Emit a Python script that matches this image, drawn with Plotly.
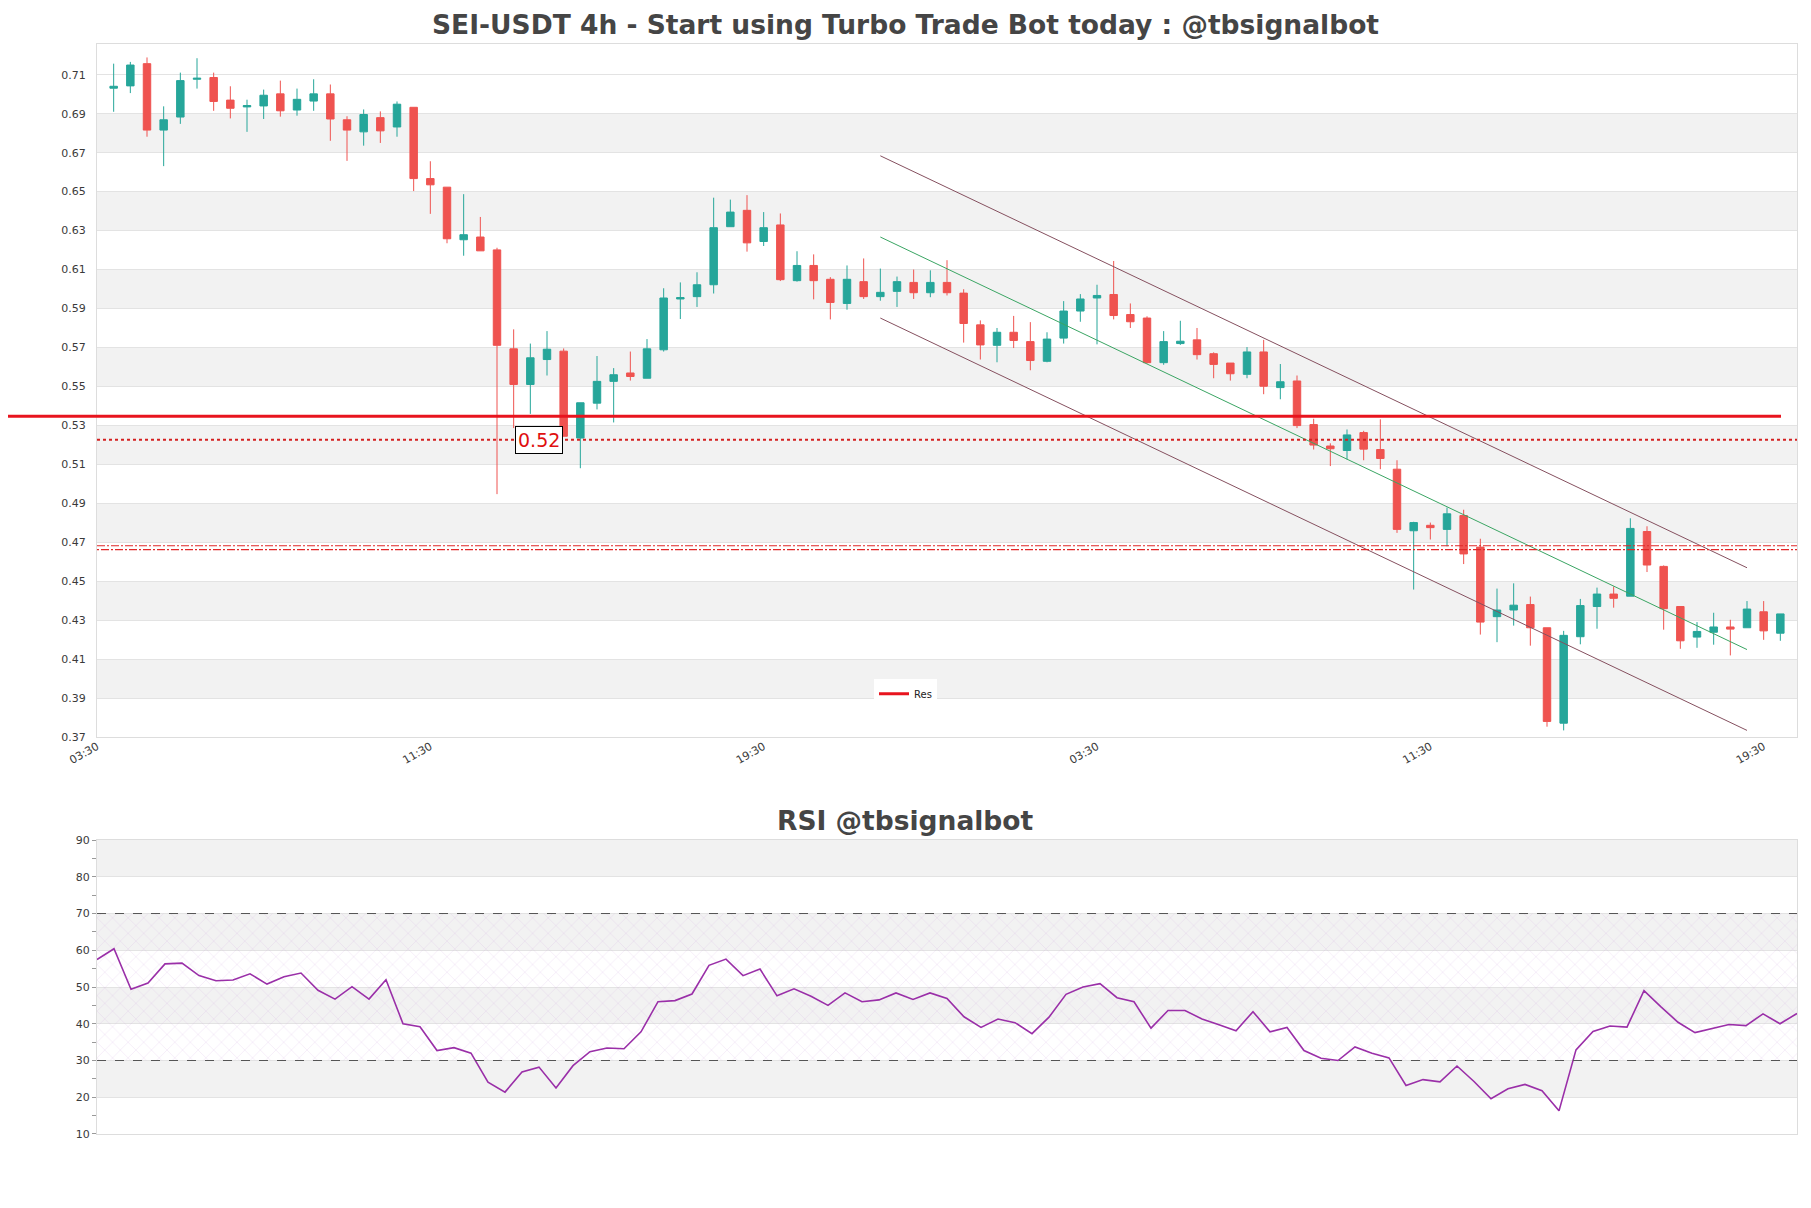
import pandas as pd
import plotly.graph_objects as go

# ---------------- data ----------------
times = pd.date_range("2024-05-01 07:30", periods=101, freq="4h")
tick_times = pd.date_range("2024-05-01 03:30", periods=6, freq="80h")
tick_labels = ["03:30", "11:30", "19:30", "03:30", "11:30", "19:30"]

opens = [0.7031, 0.7043, 0.7157, 0.6816, 0.6883, 0.7077, 0.7086, 0.6970, 0.6935, 0.6940,
         0.7002, 0.6919, 0.6965, 0.7002, 0.6869, 0.6807, 0.6880, 0.6832, 0.6933, 0.6567,
         0.6523, 0.6253, 0.6267, 0.6201, 0.5693, 0.5510, 0.5638, 0.5681, 0.5235, 0.5414,
         0.5526, 0.5569, 0.5542, 0.5688, 0.5949, 0.5961, 0.6022, 0.6320, 0.6404, 0.6244,
         0.6329, 0.6043, 0.6121, 0.6050, 0.5926, 0.6038, 0.5961, 0.5988, 0.6034, 0.5981,
         0.6034, 0.5979, 0.5816, 0.5711, 0.5778, 0.5730, 0.5629, 0.5748, 0.5887, 0.5954,
         0.5972, 0.5869, 0.5851, 0.5622, 0.5720, 0.5739, 0.5668, 0.5620, 0.5562, 0.5677,
         0.5494, 0.5528, 0.5304, 0.5194, 0.5171, 0.5263, 0.5176, 0.5075, 0.4759, 0.4787,
         0.4766, 0.4837, 0.4675, 0.4318, 0.4352, 0.4380, 0.4261, 0.3771, 0.4215, 0.4370,
         0.4434, 0.4423, 0.4755, 0.4576, 0.4370, 0.4213, 0.4238, 0.4265, 0.4261, 0.4343,
         0.4233]
highs = [0.7157, 0.7166, 0.7189, 0.6938, 0.7111, 0.7185, 0.7111, 0.7041, 0.6972, 0.7024,
         0.7070, 0.7029, 0.7077, 0.7050, 0.6887, 0.6922, 0.6912, 0.6963, 0.6933, 0.6656,
         0.6523, 0.6487, 0.6370, 0.6212, 0.5793, 0.5720, 0.5784, 0.5695, 0.5416, 0.5656,
         0.5594, 0.5679, 0.5743, 0.6004, 0.6034, 0.6086, 0.6469, 0.6459, 0.6482, 0.6395,
         0.6388, 0.6194, 0.6178, 0.6061, 0.6121, 0.6157, 0.6105, 0.6064, 0.6100, 0.6096,
         0.6148, 0.5999, 0.5839, 0.5800, 0.5862, 0.5830, 0.5778, 0.5938, 0.5974, 0.6022,
         0.6144, 0.5926, 0.5860, 0.5784, 0.5837, 0.5800, 0.5675, 0.5620, 0.5702, 0.5739,
         0.5615, 0.5556, 0.5334, 0.5208, 0.5279, 0.5272, 0.5331, 0.5121, 0.4805, 0.4801,
         0.4878, 0.4867, 0.4718, 0.4462, 0.4489, 0.4421, 0.4261, 0.4245, 0.4409, 0.4467,
         0.4473, 0.4823, 0.4782, 0.4581, 0.4370, 0.4290, 0.4338, 0.4302, 0.4398, 0.4398,
         0.4332]
lows = [0.6910, 0.7006, 0.6782, 0.6631, 0.6848, 0.7029, 0.6915, 0.6876, 0.6807, 0.6873,
        0.6885, 0.6890, 0.6915, 0.6761, 0.6658, 0.6736, 0.6750, 0.6782, 0.6503, 0.6386,
        0.6235, 0.6171, 0.6196, 0.4947, 0.5286, 0.5359, 0.5556, 0.5244, 0.5080, 0.5382,
        0.5315, 0.5530, 0.5542, 0.5679, 0.5846, 0.5908, 0.5977, 0.6320, 0.6192, 0.6221,
        0.6041, 0.6038, 0.5947, 0.5844, 0.5894, 0.5949, 0.5940, 0.5908, 0.5949, 0.5958,
        0.5967, 0.5725, 0.5638, 0.5624, 0.5697, 0.5583, 0.5624, 0.5720, 0.5832, 0.5716,
        0.5844, 0.5800, 0.5617, 0.5611, 0.5713, 0.5638, 0.5542, 0.5530, 0.5542, 0.5460,
        0.5434, 0.5286, 0.5176, 0.5091, 0.5125, 0.5121, 0.5075, 0.4748, 0.4457, 0.4714,
        0.4679, 0.4588, 0.4226, 0.4187, 0.4272, 0.4169, 0.3753, 0.3734, 0.4176, 0.4256,
        0.4364, 0.4423, 0.4547, 0.4251, 0.4153, 0.4158, 0.4174, 0.4119, 0.4261, 0.4199,
        0.4194]
closes = [0.7041, 0.7150, 0.6816, 0.6869, 0.7070, 0.7082, 0.6963, 0.6928, 0.6942, 0.6995,
          0.6915, 0.6974, 0.7002, 0.6873, 0.6816, 0.6896, 0.6812, 0.6949, 0.6567, 0.6535,
          0.6258, 0.6279, 0.6196, 0.5711, 0.5510, 0.5647, 0.5691, 0.5244, 0.5416, 0.5526,
          0.5560, 0.5551, 0.5693, 0.5954, 0.5956, 0.6022, 0.6315, 0.6395, 0.6237, 0.6315,
          0.6048, 0.6121, 0.6043, 0.5931, 0.6050, 0.5961, 0.5983, 0.6038, 0.5981, 0.6034,
          0.5981, 0.5823, 0.5713, 0.5778, 0.5736, 0.5633, 0.5743, 0.5887, 0.5949, 0.5967,
          0.5864, 0.5832, 0.5622, 0.5730, 0.5732, 0.5663, 0.5613, 0.5565, 0.5677, 0.5501,
          0.5524, 0.5299, 0.5199, 0.5180, 0.5251, 0.5178, 0.5130, 0.4766, 0.4801, 0.4775,
          0.4846, 0.4640, 0.4290, 0.4352, 0.4377, 0.4261, 0.3780, 0.4222, 0.4375, 0.4434,
          0.4412, 0.4771, 0.4583, 0.4359, 0.4194, 0.4242, 0.4265, 0.4254, 0.4357, 0.4245,
          0.4332]

rsi = [57.5, 60.4, 49.4, 51.1, 56.3, 56.5, 53.1, 51.7, 51.9, 53.6,
       50.8, 52.8, 53.8, 49.1, 46.7, 50.1, 46.7, 52.0, 40.0, 39.2,
       32.7, 33.5, 32.0, 24.1, 21.4, 26.9, 28.2, 22.5, 28.6, 32.4,
       33.4, 33.2, 37.8, 46.0, 46.3, 48.1, 55.9, 57.6, 53.1, 54.9,
       47.6, 49.5, 47.5, 45.0, 48.4, 46.0, 46.5, 48.4, 46.6, 48.4,
       46.9, 41.9, 39.0, 41.3, 40.3, 37.3, 41.8, 48.0, 50.0, 50.9,
       47.1, 46.0, 38.8, 43.6, 43.6, 41.3, 39.7, 38.1, 43.3, 37.8,
       39.0, 32.7, 30.6, 30.0, 33.7, 32.0, 30.7, 23.2, 24.8, 24.2,
       28.5, 24.3, 19.6, 22.3, 23.5, 21.8, 16.3, 32.9, 37.9, 39.4,
       39.1, 49.0, 44.6, 40.4, 37.6, 38.8, 39.8, 39.5, 42.7, 40.0,
       42.8]

res_level = 0.5347          # "Res" line
support_level = 0.5226      # dotted line with 0.52 label
support_label = "0.52"
pattern_level = 0.4672      # patterned red line

channel_idx = [46, 98]
channel_upper = [0.6684, 0.4569]
channel_mid = [0.6267, 0.4149]
channel_lower = [0.5851, 0.3734]

y_ticks = [0.37, 0.39, 0.41, 0.43, 0.45, 0.47, 0.49, 0.51, 0.53, 0.55,
           0.57, 0.59, 0.61, 0.63, 0.65, 0.67, 0.69, 0.71]
rsi_ticks = [10, 20, 30, 40, 50, 60, 70, 80, 90]
rsi_upper, rsi_lower = 70, 30

title_text = "SEI-USDT 4h - Start using Turbo Trade Bot today : @tbsignalbot"
rsi_title = "RSI @tbsignalbot"

# ---------------- figure ----------------
GREEN = "#26A69A"
RED = "#EF5350"
FONT = "DejaVu Sans"
BAND = "#F2F2F2"
GRID = "#E3E3E3"

W, H = 1811, 1208
OFF = 8                      # page body margin
ML, MR, MT, MB = 97 - OFF, 14 + OFF, 44 - OFF, 74 + OFF
plot_w = W - ML - MR
plot_h = H - MT - MB
main_dom = [0.3642, 1.0]
rsi_dom = [0.0, 0.2697]
center_x = (W / 2 - OFF - ML) / plot_w

fig = go.Figure()

fig.add_trace(go.Candlestick(
    x=times, open=opens, high=highs, low=lows, close=closes,
    increasing=dict(line=dict(color=GREEN, width=1), fillcolor=GREEN),
    decreasing=dict(line=dict(color=RED, width=1), fillcolor=RED),
    whiskerwidth=0, showlegend=False, xaxis="x", yaxis="y", name="SEI-USDT"))

# channel lines
cx = [times[i] for i in channel_idx]
for ys, col in [(channel_upper, "#85505F"), (channel_mid, "#3AA563"), (channel_lower, "#85505F")]:
    fig.add_trace(go.Scatter(x=cx, y=ys, mode="lines", line=dict(color=col, width=1),
                             showlegend=False, hoverinfo="skip", xaxis="x", yaxis="y"))

# support dotted line
x_lo = times[0] - pd.Timedelta(hours=4)
x_hi = times[-1] + pd.Timedelta(hours=4)
fig.add_trace(go.Scatter(x=[x_lo, x_hi], y=[support_level, support_level], mode="lines",
                         line=dict(color="#D42020", width=2, dash="dot"),
                         showlegend=False, hoverinfo="skip", xaxis="x", yaxis="y"))
# patterned line (double dashed)
for off, dash in [(0.0010, "8px,2px,2px,2px"), (-0.0010, "2px,2px,8px,2px")]:
    fig.add_trace(go.Scatter(x=[x_lo, x_hi], y=[pattern_level + off] * 2, mode="lines",
                             line=dict(color="#E02828", width=1.2, dash=dash),
                             showlegend=False, hoverinfo="skip", xaxis="x", yaxis="y"))

# legend entry for Res
fig.add_trace(go.Scatter(x=[None], y=[None], mode="lines", name="Res",
                         line=dict(color="#E8141E", width=3), xaxis="x", yaxis="y"))

# RSI hatch area
fig.add_trace(go.Scatter(x=[times[0], times[-1], times[-1], times[0], times[0]],
                         y=[rsi_lower, rsi_lower, rsi_upper, rsi_upper, rsi_lower],
                         fill="toself", mode="lines", line=dict(width=0),
                         fillcolor="rgba(0,0,0,0)",
                         fillpattern=dict(shape="x", fgcolor="rgba(200,150,215,0.7)",
                                          bgcolor="rgba(0,0,0,0)", size=11, solidity=0.08),
                         showlegend=False, hoverinfo="skip", xaxis="x2", yaxis="y2"))
# RSI line
fig.add_trace(go.Scatter(x=times, y=rsi, mode="lines", line=dict(color="#9A2FA8", width=1.6),
                         showlegend=False, xaxis="x2", yaxis="y2", name="RSI"))

shapes = []
# main bands
for lo, hi in zip(y_ticks[1::2], y_ticks[2::2]):
    shapes.append(dict(type="rect", xref="x domain", yref="y", x0=0, x1=1, y0=lo, y1=hi,
                       fillcolor=BAND, line=dict(width=0), layer="below"))
# rsi bands
for lo, hi in zip(rsi_ticks[1::2], rsi_ticks[2::2]):
    shapes.append(dict(type="rect", xref="x2 domain", yref="y2", x0=0, x1=1, y0=lo, y1=hi,
                       fillcolor=BAND, line=dict(width=0), layer="below"))
# rsi threshold dashed lines
for lvl in [rsi_upper, rsi_lower]:
    shapes.append(dict(type="line", xref="x2 domain", yref="y2", x0=0, x1=1, y0=lvl, y1=lvl,
                       line=dict(color="#555555", width=1, dash="dash")))
# Res line extending left of the plot
res_x0 = (0 - ML) / plot_w
res_x1 = (1781 - OFF - ML) / plot_w
shapes.append(dict(type="line", xref="paper", yref="y", x0=res_x0, x1=res_x1,
                   y0=res_level, y1=res_level, line=dict(color="#E8141E", width=3)))

annotations = [
    dict(text=f"<b>{title_text}</b>", xref="paper", yref="paper", x=center_x,
         y=1 + (MT - 16) / plot_h,
         xanchor="center", yanchor="middle", showarrow=False,
         font=dict(family=FONT, size=26.5, color="#454545")),
    dict(text=f"<b>{rsi_title}</b>", xref="paper", yref="paper", x=center_x, y=0.288,
         xanchor="center", yanchor="middle", showarrow=False,
         font=dict(family=FONT, size=26.5, color="#454545")),
    dict(text=support_label, xref="x", yref="y", x=times[24] + pd.Timedelta(hours=6),
         y=support_level, xanchor="center", yanchor="middle", showarrow=False,
         font=dict(family=FONT, size=19, color="#E01010"),
         bgcolor="white", bordercolor="black", borderwidth=1, borderpad=2),
]

axis_font = dict(family=FONT, size=11, color="#3a3a3a")
fig.update_layout(
    width=W, height=H,
    margin=dict(l=ML, r=MR, t=MT, b=MB),
    paper_bgcolor="white", plot_bgcolor="white",
    font=dict(family=FONT),
    boxgap=0.36,
    showlegend=True,
    legend=dict(x=center_x, y=0.404, xanchor="center", yanchor="middle",
                bgcolor="white", font=dict(family=FONT, size=10, color="#222"),
                itemwidth=30),
    xaxis=dict(domain=[0, 1], anchor="y", range=[x_lo, x_hi],
               tickvals=list(tick_times), ticktext=tick_labels,
               tickangle=-30, tickfont=axis_font, showgrid=False,
               showline=True, linecolor="#DDDDDD", mirror=True, ticks="",
               ticklabelstandoff=-2,
               rangeslider=dict(visible=False), zeroline=False),
    yaxis=dict(domain=main_dom, anchor="x", range=[0.37, 0.7258],
               tickvals=y_ticks, ticktext=[f"{v:.2f}" for v in y_ticks],
               tickfont=axis_font, gridcolor=GRID, showline=True, linecolor="#DDDDDD",
               mirror=True, ticks="", ticklabelstandoff=8, zeroline=False),
    xaxis2=dict(domain=[0, 1], anchor="y2", range=[times[0], times[-1]],
                showticklabels=False, showgrid=False, showline=True,
                linecolor="#DDDDDD", mirror=True, ticks="", zeroline=False),
    yaxis2=dict(domain=rsi_dom, anchor="x2", range=[10, 90], tickvals=rsi_ticks,
                tickfont=axis_font, gridcolor=GRID, showline=True, linecolor="#DDDDDD",
                mirror=True, ticks="outside", ticklen=4, tickcolor="#999999",
                minor=dict(ticks="outside", dtick=5, ticklen=4, tickcolor="#999999"),
                zeroline=False),
    shapes=shapes,
    annotations=annotations,
)

fig.write_html("out.html")
